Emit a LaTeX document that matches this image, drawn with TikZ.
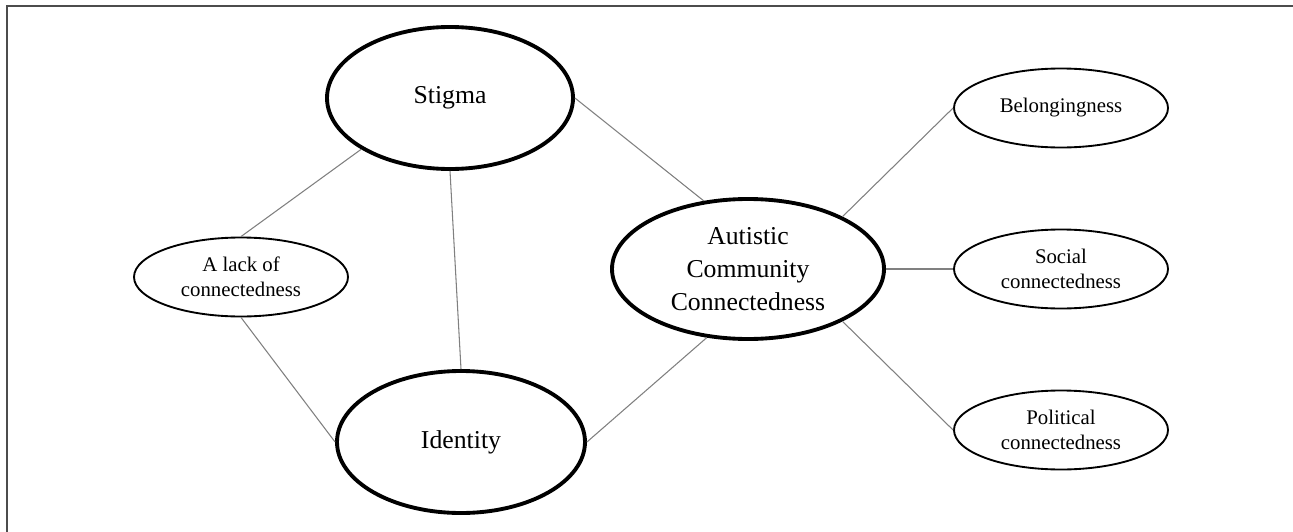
\documentclass[tikz,border=0pt]{standalone}
\usepackage{fontspec}
\setmainfont{Liberation Serif}
\usetikzlibrary{shapes.geometric}
\begin{document}
\begin{tikzpicture}[x=0.75pt,y=-0.75pt,
  bigell/.style={ellipse, draw=black, line width=2.9pt, inner sep=0pt, align=center,
    minimum width=246*0.75pt, minimum height=142*0.75pt,
    font={\fontsize{19.3}{24.75}\selectfont}},
  smallell/.style={ellipse, draw=black, line width=1.4pt, inner sep=0pt, align=center,
    minimum width=214*0.75pt, minimum height=79*0.75pt,
    font={\fontsize{15.6}{18.75}\selectfont}},
  link/.style={draw=black!50, line width=0.8pt},
  frame/.style={draw=black!70, line width=1.5pt}]
\useasboundingbox (0,0) rectangle (1293,532);
\coordinate (fb) at (7,532);
\coordinate (fc) at (7,6);
\coordinate (fr) at (1293,6);
\draw[frame] (fb) -- (fc) -- (fr);

\node[bigell] (stigma) at (450,98) {Stigma};
\node[bigell, minimum width=248*0.75pt] (identity) at (461,442) {Identity};
\node[bigell, minimum width=272*0.75pt, minimum height=140*0.75pt] (acc) at (748,269) {Autistic\\Community\\Connectedness};
\node[smallell] (lack) at (241,277) {A lack of\\connectedness};
\node[smallell] (belong) at (1061,108) {Belongingness};
\node[smallell] (social) at (1061,269) {Social\\connectedness};
\node[smallell] (political) at (1061,430) {Political\\connectedness};

\draw[link] (stigma.210) -- (lack.north);
\draw[link] (lack.south) -- (identity.west);
\draw[link] (stigma.south) -- (identity.north);
\draw[link] (stigma.east) -- (acc.123);
\draw[link] (identity.east) -- (acc.239);
\draw[link] (acc.29) -- (belong.west);
\draw[link] (acc.east) -- (social.west);
\draw[link] (acc.-29) -- (political.west);
\end{tikzpicture}
\end{document}
